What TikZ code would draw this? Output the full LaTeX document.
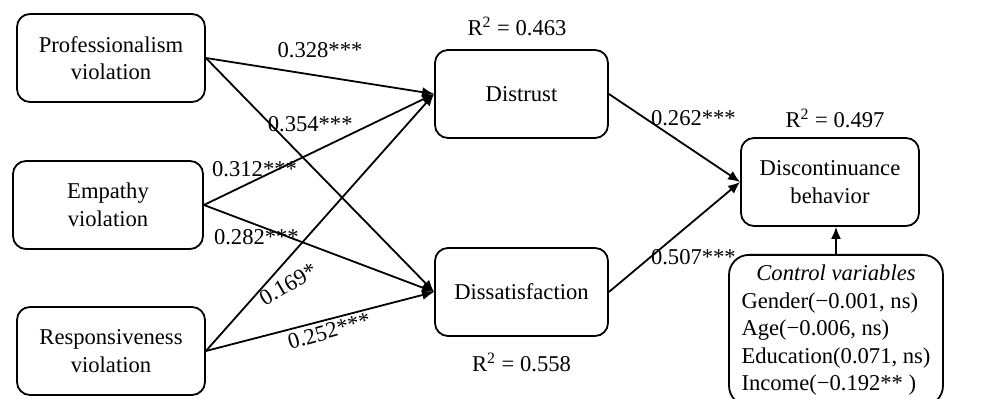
\documentclass[tikz,border=0pt]{standalone}
\usepackage{fontspec}
\setmainfont{Liberation Serif}
\usetikzlibrary{arrows.meta,positioning}
\tikzset{%
	block/.style = {draw, rectangle, rounded corners=6.5pt, minimum width=94pt, minimum height=44pt, align=center}, % Construct
	ctrl/.style  = {draw, rectangle, rounded corners=10pt, minimum width=107pt, anchor=north}, % Controls
	coef/.style  = {inner sep=1pt}, % Path coefficient
	rsq/.style   = {inner sep=1pt}, % Explained variance
}

\begin{document}
\begin{tikzpicture}[x=0.5pt, y=-0.5pt, line width=0.9pt, font=\fontsize{11.3}{13.75}\selectfont, >={Latex[length=6pt,width=5pt]}]
	\clip (0,0) rectangle (981,399);
	\node[block] (prof) at (111,58) {Professionalism\\violation};
	\node[block, minimum width=95pt] (emp) at (108,205) {Empathy\\violation};
	\node[block] (resp) at (111,351) {Responsiveness\\violation};
	\node[block, minimum width=86.5pt] (distrust) at (521.5,94) {Distrust};
	\node[block, minimum width=86.5pt] (dissat) at (521.5,292) {Dissatisfaction};
	\node[block, minimum width=89pt] (disc) at (830,182) {Discontinuance\\behavior};
	\node[ctrl] (ctrl) at (836,254) {\begin{tabular}{@{}l@{}}
		\multicolumn{1}{@{}c@{}}{\textit{Control variables}}\\
		Gender(−0.001, ns)\\
		Age(−0.006, ns)\\
		Education(0.071, ns)\\
		Income(−0.192** )
	\end{tabular}};
	\node[rsq, above=5pt of distrust, xshift=-2.25pt] (r2distrust) {R\textsuperscript{2} = 0.463};
	\node[rsq, below=6.5pt of dissat] (r2dissat) {R\textsuperscript{2} = 0.558};
	\node[rsq, above=3.25pt of disc, xshift=2.5pt] (r2disc) {R\textsuperscript{2} = 0.497};
	\draw[->] (prof.east) -- node[coef, pos=0.5, yshift=12.75pt] {0.328***} (distrust.west);
	\draw[->] (prof.east) -- node[coef, pos=0.457, yshift=20.5pt] {0.354***} (dissat.west);
	\draw[->] (emp.east) -- node[coef, pos=0.22, yshift=5.5pt] {0.312***} (distrust.west);
	\draw[->] (emp.east) -- node[coef, pos=0.228, yshift=-6.3pt] {0.282***} (dissat.west);
	\draw[->] (resp.east) -- node[coef, pos=0.36, yshift=-13pt, rotate=30] {0.169*} (distrust.west);
	\draw[->] (resp.east) -- node[coef, pos=0.54, yshift=-6pt, rotate=16] {0.252***} (dissat.west);
	\draw[->] (distrust.east) -- node[coef, pos=0.644, yshift=16.5pt] {0.262***} (disc.west);
	\draw[->] (dissat.east) -- node[coef, pos=0.644, yshift=-18pt] {0.507***} (disc.west);
	\draw[->] (ctrl.north) -- (ctrl.north |- disc.south);
\end{tikzpicture}
\end{document}
